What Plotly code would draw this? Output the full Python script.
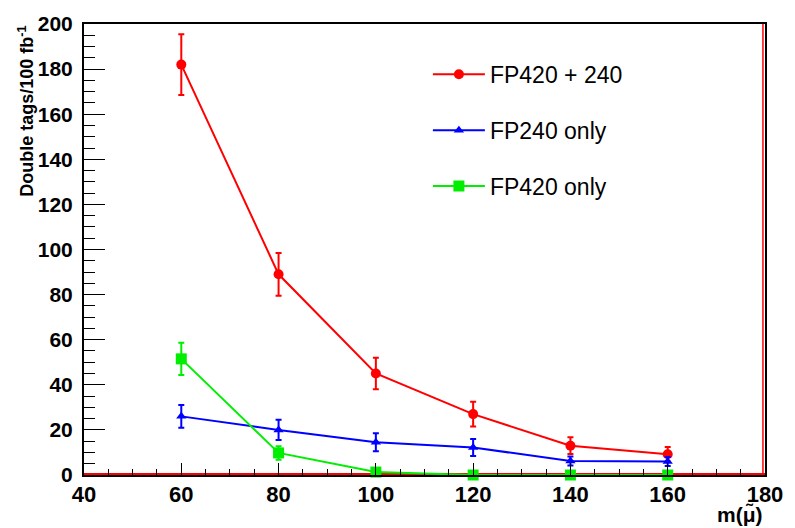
import plotly.graph_objects as go

# Slepton mass points (GeV)
mass = [60, 80, 100, 120, 140, 160]

# Double-tag yields per 100 fb^-1 and their uncertainties
both_vals = [182, 89, 45, 27, 13, 9.2]
both_errs = [13.5, 9.5, 7, 5.5, 3.7, 3.2]

fp240_vals = [26, 20, 14.5, 12.2, 6.2, 6.0]
fp240_errs = [5, 4.5, 4, 3.8, 2, 2]

fp420_vals = [51.5, 9.8, 1.3, 0, 0, 0]
fp420_errs = [7.2, 3, 1, 0, 0, 0]

series = [
    ("FP420 + 240", both_vals, both_errs, "#ff0000", "circle", 10),
    ("FP240 only", fp240_vals, fp240_errs, "#0000ff", "triangle-up", 9),
    ("FP420 only", fp420_vals, fp420_errs, "#00ee00", "square", 11),
]

FONT = "Liberation Sans"

fig = go.Figure()
for i, (name, vals, errs, color, symbol, msize) in enumerate(series):
    fig.add_trace(go.Scatter(
        x=mass, y=vals, name=name, mode="lines+markers",
        legendgroup=f"g{i}",
        line=dict(color=color, width=2),
        marker=dict(color=color, symbol=symbol, size=msize),
        error_y=dict(type="data", array=errs, visible=True,
                     color=color, thickness=2, width=3),
        cliponaxis=False,
    ))

# red frame lines along the bottom and right edges of the pad
fig.add_shape(type="line", xref="paper", yref="paper", x0=0, x1=1, y0=0.002, y1=0.002,
              line=dict(color="#ff0000", width=2), layer="below")
fig.add_shape(type="line", xref="paper", yref="paper", x0=0.997, x1=0.997, y0=0, y1=1,
              line=dict(color="#ff0000", width=1.5), layer="below")

axis_common = dict(
    showgrid=False, zeroline=False, showline=True, mirror=True,
    linecolor="black", linewidth=2, ticks="inside", tickcolor="black",
    tickwidth=1,
)

fig.update_xaxes(range=[40, 180], tick0=40, dtick=20, ticklen=12,
                 minor=dict(dtick=5, tick0=40, ticklen=6, ticks="inside",
                            tickcolor="black", tickwidth=1),
                 tickfont=dict(family=FONT, size=22, color="black", weight=700),
                 ticklabelstandoff=-1, **axis_common)
fig.update_yaxes(range=[0, 200], tick0=0, dtick=20, ticklen=21,
                 minor=dict(dtick=5, tick0=0, ticklen=11, ticks="inside",
                            tickcolor="black", tickwidth=1),
                 tickfont=dict(family=FONT, size=21, color="black", weight=700),
                 ticklabelstandoff=5, **axis_common)

# axis titles placed at the far end of each axis
fig.add_annotation(text="Double tags/100 fb<sup>-1</sup>", textangle=-90,
                   xref="paper", yref="paper", x=-0.065, y=1.0,
                   xanchor="right", yanchor="top", showarrow=False,
                   font=dict(family=FONT, size=18, color="black", weight=700))
fig.add_annotation(text="m(μ̃)",
                   xref="paper", yref="paper", x=1.0, y=-0.058,
                   xanchor="right", yanchor="top", showarrow=False,
                   font=dict(family=FONT, size=21, color="black", weight=700))

fig.update_layout(
    width=795, height=528,
    margin=dict(l=84, r=29, t=16, b=53),
    paper_bgcolor="white", plot_bgcolor="white",
    font=dict(family=FONT, color="black"),
    legend=dict(x=0.505, y=0.936, xanchor="left", yanchor="top",
                bgcolor="rgba(0,0,0,0)", borderwidth=0,
                font=dict(family=FONT, size=23, color="black"),
                traceorder="grouped", tracegroupgap=23, itemwidth=52),
    showlegend=True,
)

fig.write_html("out.html")
